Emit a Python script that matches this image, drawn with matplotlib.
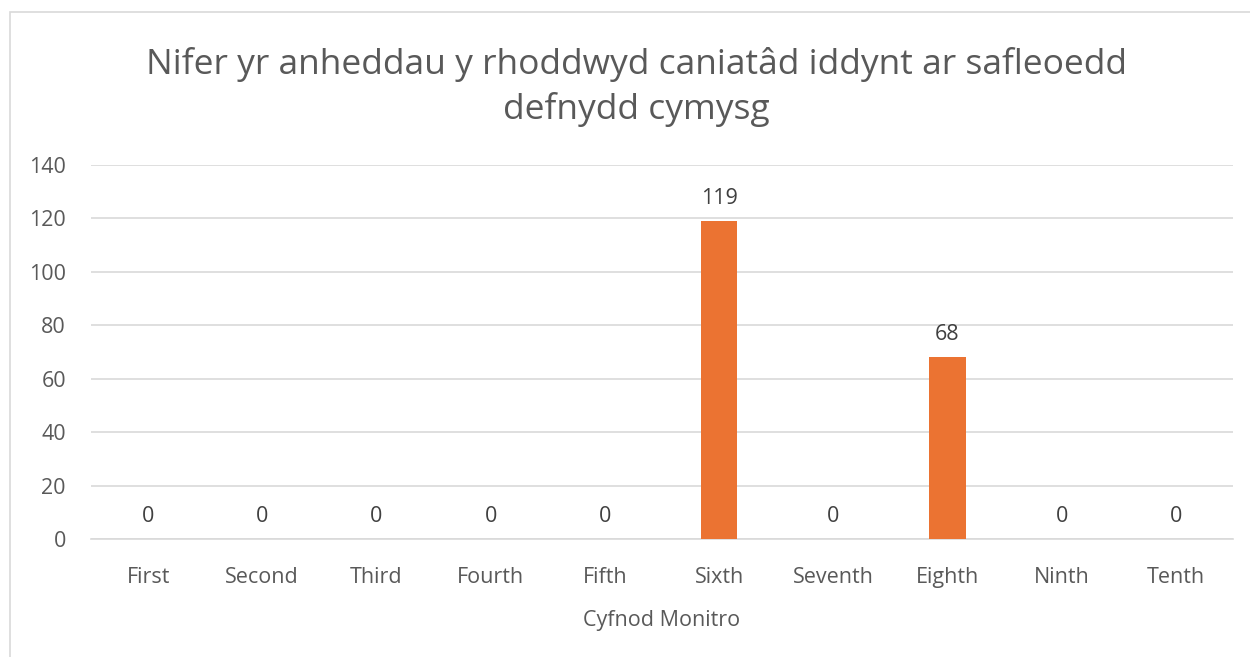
import matplotlib.pyplot as plt
from matplotlib.patches import Rectangle

# Data
periods = ["First", "Second", "Third", "Fourth", "Fifth",
           "Sixth", "Seventh", "Eighth", "Ninth", "Tenth"]
dwellings = [0, 0, 0, 0, 0, 119, 0, 68, 0, 0]

TITLE = "Nifer yr anheddau y rhoddwyd caniatâd iddynt ar safleoedd\ndefnydd cymysg"
XLABEL = "Cyfnod Monitro"
BAR_COLOR = "#EB7332"
TEXT_COLOR = "#595959"
GRID_COLOR = "#D9D9D9"


def main():
    plt.rcParams["font.family"] = ["Open Sans", "DejaVu Sans"]

    fig = plt.figure(figsize=(12.5, 6.57), dpi=100)
    W, H = 1250, 657
    # axes placed in pixel terms: left 91, right 1233, top 165, bottom 539
    ax = fig.add_axes([91 / W, 1 - 539 / H, (1233 - 91) / W, (539 - 165) / H])

    # chart border (only left/top visible in the reference)
    fig.patches.append(Rectangle((10 / W, -0.1), 1.2, 1 - 12 / H + 0.1,
                                 transform=fig.transFigure, fill=False,
                                 edgecolor="#D9D9D9", linewidth=1.2))

    x = list(range(len(periods)))
    bars = ax.bar(x, dwellings, width=0.32, color=BAR_COLOR, zorder=3)

    for rect, v in zip(bars, dwellings):
        ax.annotate(str(v), (rect.get_x() + rect.get_width() / 2, v),
                    xytext=(0, 9), textcoords="offset points",
                    ha="center", va="bottom", fontsize=15.5, color="#404040")

    ax.set_xlim(-0.5, len(periods) - 0.5)
    ax.set_ylim(0, 140)
    ax.set_yticks(range(0, 141, 20))
    ax.set_xticks(x)
    ax.set_xticklabels(periods)
    ax.tick_params(axis="both", length=0, labelsize=15.5, colors=TEXT_COLOR)
    ax.tick_params(axis="x", pad=20)
    ax.tick_params(axis="y", pad=18)
    ax.grid(axis="y", color=GRID_COLOR, linewidth=1.2, zorder=0)
    for s in ["top", "right", "left"]:
        ax.spines[s].set_visible(False)
    ax.spines["bottom"].set_color(GRID_COLOR)
    ax.spines["bottom"].set_linewidth(1.2)

    ax.set_xlabel(XLABEL, fontsize=15.5, color=TEXT_COLOR, labelpad=16)
    fig.text(0.509, 1 - 87 / H, TITLE, ha="center", va="center",
             fontsize=25.5, color=TEXT_COLOR, linespacing=1.38)

    fig.savefig("out.png", dpi=100, facecolor="white")


if __name__ == "__main__":
    main()
